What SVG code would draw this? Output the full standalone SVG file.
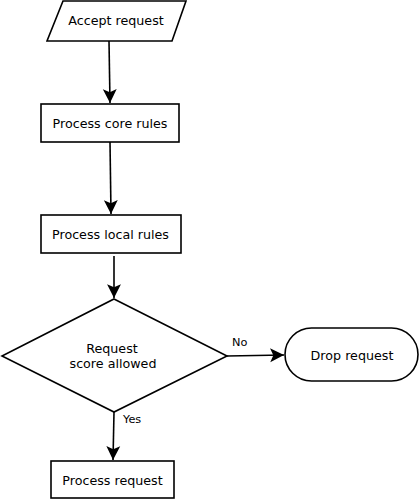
<svg xmlns="http://www.w3.org/2000/svg" width="420" height="499" viewBox="0 0 420 499">
<style>
.s{fill:#fff;stroke:#000;stroke-width:1.6}
.t{font-family:"DejaVu Sans",sans-serif;font-size:12.7px;fill:#000;text-anchor:middle}
.l{font-family:"DejaVu Sans",sans-serif;font-size:11.3px;fill:#000}
.c{fill:none;stroke:#000;stroke-width:1.6;marker-end:url(#a)}
</style>
<defs>
<marker id="a" markerUnits="userSpaceOnUse" markerWidth="16" markerHeight="16" viewBox="-14 -7 15 14" refX="0" refY="0" orient="auto">
<path d="M0,0 L-13,-6.5 L-10,0 L-13,6.5 Z" fill="#000"/>
</marker>
</defs>
<rect width="420" height="499" fill="#fff"/>
<g id="connectors">
<path class="c" d="M109,41 L110,103"/>
<path class="c" d="M110,142 L111,214"/>
<path class="c" d="M114,256 L114,298"/>
<path class="c" d="M227,356 L284,355"/>
<path class="c" d="M114,412 L113,460"/>
<text class="l" x="232" y="346">No</text>
<text class="l" x="123" y="423">Yes</text>
</g>
<g id="accept">
<path class="s" d="M63,1 L186,1 L172,41 L47,41 Z"/>
<text class="t" x="116" y="25">Accept request</text>
</g>
<g id="core">
<rect class="s" x="41" y="104" width="138" height="38"/>
<text class="t" x="110" y="128">Process core rules</text>
</g>
<g id="local">
<rect class="s" x="41" y="215" width="140" height="38"/>
<text class="t" x="110.5" y="239">Process local rules</text>
</g>
<g id="decision">
<path class="s" d="M114,299 L227,356 L114,412 L2,356 Z"/>
<text class="t" x="112" y="352.5">Request</text>
<text class="t" x="113" y="368">score allowed</text>
</g>
<g id="drop">
<rect class="s" x="285" y="328" width="133" height="53" rx="26.5"/>
<text class="t" x="352" y="359.5">Drop request</text>
</g>
<g id="process">
<rect class="s" x="51" y="461" width="123" height="37"/>
<text class="t" x="112.5" y="484.5">Process request</text>
</g>
</svg>
